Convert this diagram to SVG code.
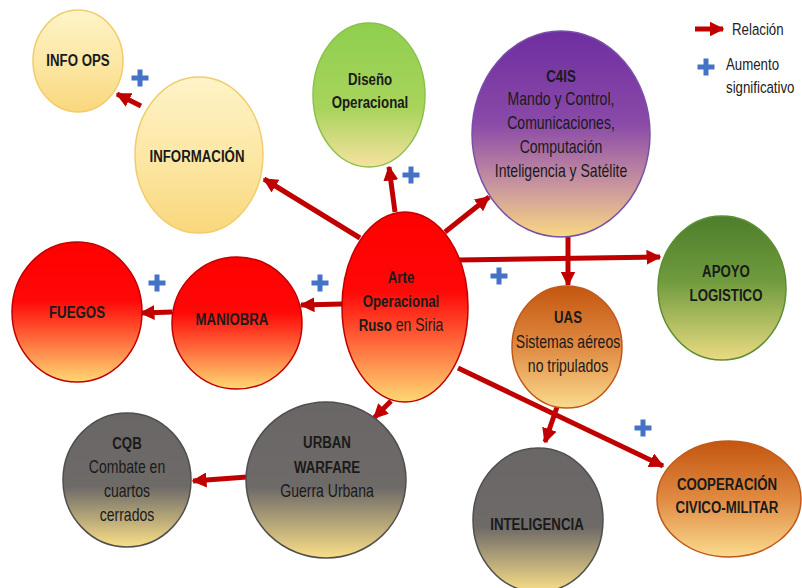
<svg xmlns="http://www.w3.org/2000/svg" width="802" height="588" viewBox="0 0 802 588">
<defs>
<linearGradient id="gYel" x1="0" y1="0" x2="0" y2="1"><stop offset="0" stop-color="#FEF4C8"/><stop offset="0.55" stop-color="#FCE6A2"/><stop offset="1" stop-color="#F9D77C"/></linearGradient>
<linearGradient id="gGrn" x1="0" y1="0" x2="0" y2="1"><stop offset="0" stop-color="#8ECF4E"/><stop offset="0.6" stop-color="#A9D45C"/><stop offset="1" stop-color="#F7E2A0"/></linearGradient>
<linearGradient id="gPur" x1="0" y1="0" x2="0" y2="1"><stop offset="0" stop-color="#6E2EA0"/><stop offset="0.45" stop-color="#8A4AA8"/><stop offset="0.75" stop-color="#C8959E"/><stop offset="1" stop-color="#F9D883"/></linearGradient>
<linearGradient id="gRed" x1="0" y1="0" x2="0" y2="1"><stop offset="0" stop-color="#FF0000"/><stop offset="0.42" stop-color="#FF0808"/><stop offset="1" stop-color="#FFD874"/></linearGradient>
<linearGradient id="gDkG" x1="0" y1="0" x2="0" y2="1"><stop offset="0" stop-color="#4E7E2C"/><stop offset="0.45" stop-color="#6F9B3D"/><stop offset="1" stop-color="#EADB82"/></linearGradient>
<linearGradient id="gOra" x1="0" y1="0" x2="0" y2="1"><stop offset="0" stop-color="#C4560F"/><stop offset="0.5" stop-color="#E08A42"/><stop offset="1" stop-color="#FADB8E"/></linearGradient>
<linearGradient id="gGry" x1="0" y1="0" x2="0" y2="1"><stop offset="0" stop-color="#6A6666"/><stop offset="0.55" stop-color="#6E6A68"/><stop offset="1" stop-color="#FADF88"/></linearGradient>
<marker id="ah" viewBox="0 0 10 10" refX="9" refY="5" markerWidth="15" markerHeight="15" markerUnits="userSpaceOnUse" orient="auto"><path d="M0,0 L10,5 L0,10 Z" fill="#C00000"/></marker>
<path id="plus" d="M-2.5,-8.5 h5 v6 h6 v5 h-6 v6 h-5 v-6 h-6 v-5 h6 Z" fill="#4472C4"/>
<style>
.c{stroke:#C00000;stroke-width:5;fill:none;marker-end:url(#ah)}
text{font-family:"Liberation Sans",Arial,sans-serif;font-size:18px;fill:#1a1a1a;text-anchor:middle}
.b{font-weight:bold;font-size:17px}
.lg{text-anchor:start;font-size:17px;fill:#222}
</style>
</defs>
<rect width="802" height="588" fill="#FFFFFF"/>

<g id="connectors">
<line class="c" x1="360" y1="238" x2="264" y2="179"/>
<line class="c" x1="141" y1="106" x2="117" y2="94"/>
<line class="c" x1="395" y1="212" x2="389" y2="167"/>
<line class="c" x1="445" y1="232" x2="489" y2="197"/>
<line class="c" x1="458" y1="260" x2="660" y2="257"/>
<line class="c" x1="568" y1="237" x2="568" y2="285"/>
<line class="c" x1="342" y1="304" x2="301" y2="305"/>
<line class="c" x1="172" y1="312" x2="141" y2="313"/>
<line class="c" x1="391" y1="401" x2="374" y2="418"/>
<line class="c" x1="247" y1="477" x2="193" y2="481"/>
<line class="c" x1="458" y1="368" x2="663" y2="466"/>
<line class="c" x1="557" y1="407" x2="545" y2="442"/>
</g>

<g id="info-ops"><ellipse cx="78" cy="61" rx="45" ry="51" fill="url(#gYel)" stroke="#F0CD6A" stroke-width="1.5"/>
<g transform="translate(78,0) scale(0.78,1)"><text class="b" x="0" y="66">INFO OPS</text></g></g>
<g id="informacion"><ellipse cx="199" cy="155" rx="64" ry="78" fill="url(#gYel)" stroke="#F0CD6A" stroke-width="1.5"/>
<g transform="translate(197,0) scale(0.78,1)"><text class="b" x="0" y="162">INFORMACIÓN</text></g></g>
<g id="diseno"><ellipse cx="369" cy="95" rx="56" ry="72" fill="url(#gGrn)" stroke="#8CC04E" stroke-width="1.5"/>
<g transform="translate(370,0) scale(0.78,1)"><text class="b" x="0" y="85">Diseño</text><text class="b" x="0" y="108">Operacional</text></g></g>
<g id="c4is"><ellipse cx="561" cy="134" rx="89" ry="103" fill="url(#gPur)" stroke="#7A4FA8" stroke-width="1.5"/>
<g transform="translate(561,0) scale(0.78,1)"><text class="b" x="0" y="82">C4IS</text><text x="0" y="105">Mando y Control,</text><text x="0" y="129">Comunicaciones,</text><text x="0" y="153">Computación</text><text x="0" y="177">Inteligencia y Satélite</text></g></g>
<g id="arte"><ellipse cx="405" cy="307" rx="63" ry="95" fill="url(#gRed)" stroke="#C00000" stroke-width="1.5"/>
<g transform="translate(401,0) scale(0.78,1)"><text class="b" x="0" y="283">Arte</text><text class="b" x="0" y="307">Operacional</text><text x="0" y="331"><tspan font-weight="bold" font-size="17">Ruso</tspan> en Siria</text></g></g>
<g id="apoyo"><ellipse cx="722" cy="288" rx="64" ry="72" fill="url(#gDkG)" stroke="#5E8E34" stroke-width="1.5"/>
<g transform="translate(726,0) scale(0.78,1)"><text class="b" x="0" y="277">APOYO</text><text class="b" x="0" y="301">LOGISTICO</text></g></g>
<g id="uas"><ellipse cx="567" cy="347" rx="55" ry="61" fill="url(#gOra)" stroke="#C0581A" stroke-width="1.5"/>
<g transform="translate(568,0) scale(0.78,1)"><text class="b" x="0" y="323">UAS</text><text x="0" y="348">Sistemas aéreos</text><text x="0" y="372">no tripulados</text></g></g>
<g id="maniobra"><ellipse cx="237" cy="323" rx="65" ry="66" fill="url(#gRed)" stroke="#C00000" stroke-width="1.5"/>
<g transform="translate(232,0) scale(0.78,1)"><text class="b" x="0" y="325">MANIOBRA</text></g></g>
<g id="fuegos"><ellipse cx="77" cy="312" rx="65" ry="70" fill="url(#gRed)" stroke="#C00000" stroke-width="1.5"/>
<g transform="translate(77,0) scale(0.78,1)"><text class="b" x="0" y="318">FUEGOS</text></g></g>
<g id="cqb"><ellipse cx="127" cy="480" rx="64" ry="67" fill="url(#gGry)" stroke="#4F4F4F" stroke-width="1.5"/>
<g transform="translate(127,0) scale(0.78,1)"><text class="b" x="0" y="449">CQB</text><text x="0" y="473">Combate en</text><text x="0" y="497">cuartos</text><text x="0" y="521">cerrados</text></g></g>
<g id="urban"><ellipse cx="326" cy="480" rx="80" ry="78" fill="url(#gGry)" stroke="#4F4F4F" stroke-width="1.5"/>
<g transform="translate(327,0) scale(0.78,1)"><text class="b" x="0" y="448">URBAN</text><text class="b" x="0" y="473">WARFARE</text><text x="0" y="497">Guerra Urbana</text></g></g>
<g id="inteligencia"><ellipse cx="538" cy="520" rx="65" ry="72" fill="url(#gGry)" stroke="#4F4F4F" stroke-width="1.5"/>
<g transform="translate(537,0) scale(0.78,1)"><text class="b" x="0" y="530">INTELIGENCIA</text></g></g>
<g id="cooperacion"><ellipse cx="729" cy="499" rx="72" ry="58" fill="url(#gOra)" stroke="#C0581A" stroke-width="1.5"/>
<g transform="translate(727,0) scale(0.78,1)"><text class="b" x="0" y="490">COOPERACIÓN</text><text class="b" x="0" y="513">CIVICO-MILITAR</text></g></g>

<g id="plus-signs">
<use href="#plus" x="140" y="78"/>
<use href="#plus" x="411" y="175"/>
<use href="#plus" x="157" y="283"/>
<use href="#plus" x="320" y="283"/>
<use href="#plus" x="499" y="276"/>
<use href="#plus" x="643" y="428"/>
</g>

<g id="legend">
<line x1="695" y1="29" x2="723" y2="29" stroke="#C00000" stroke-width="5" marker-end="url(#ah)"/>
<g transform="translate(732,0) scale(0.78,1)"><text class="lg" x="0" y="35">Relación</text></g>
<use href="#plus" x="706" y="67"/>
<g transform="translate(726,0) scale(0.78,1)"><text class="lg" x="0" y="70">Aumento</text><text class="lg" x="0" y="93">significativo</text></g>
</g>
</svg>
